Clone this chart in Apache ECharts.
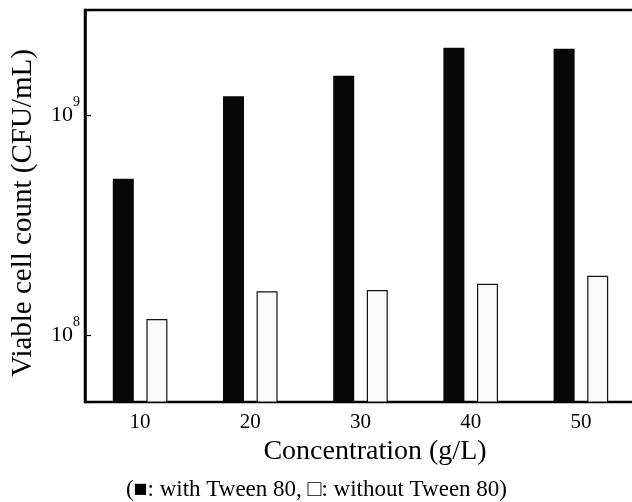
<!DOCTYPE html>
<html>
<head>
<meta charset="utf-8">
<script src="https://cdn.jsdelivr.net/npm/echarts@6/dist/echarts.min.js"></script>
<style>
html, body { margin: 0; padding: 0; background: #fff; }
#chart { width: 632px; height: 502px; }
</style>
</head>
<body>
<div id="chart"></div>
<script>
var concentrations = ['10', '20', '30', '40', '50'];
var withTween = [5.15e8, 1.22e9, 1.51e9, 2.02e9, 2.0e9];
var withoutTween = [1.19e8, 1.59e8, 1.61e8, 1.72e8, 1.87e8];
var yRange = [5e7, 3e9];

var serif = '"Liberation Serif", "Times New Roman", serif';
var myChart = echarts.init(document.getElementById('chart'));

function powLabel(v) {
    var e = Math.log10(v);
    if (Math.abs(e - Math.round(e)) > 1e-6) return '';
    return '{b|10}{s|' + Math.round(e) + '}';
}

var option = {
    animation: false,
    title: {
        text: '(\u25A0: with Tween 80, \u25A1: without Tween 80)',
        left: 126,
        top: 478,
        padding: 0,
        textStyle: { fontFamily: serif, fontSize: 23, fontWeight: 'normal', color: '#000' }
    },
    grid: {
        left: 85,
        right: -4,
        top: 10,
        bottom: 100,
        show: true,
        borderColor: '#000',
        borderWidth: 2.5,
        outerBoundsMode: 'none'
    },
    xAxis: {
        type: 'category',
        data: concentrations,
        name: 'Concentration (g/L)',
        nameLocation: 'middle',
        nameGap: 34,
        nameTextStyle: { fontFamily: serif, fontSize: 28, color: '#000', padding: [0, 0, 0, 29] },
        axisLine: { lineStyle: { color: '#000', width: 2 } },
        axisTick: { alignWithLabel: true, length: 5, lineStyle: { color: '#000', width: 1.2 } },
        axisLabel: { fontFamily: serif, fontSize: 21, color: '#000', margin: 10 },
        splitLine: { show: false }
    },
    yAxis: {
        type: 'log',
        logBase: 10,
        min: yRange[0],
        max: yRange[1],
        name: 'Viable cell count (CFU/mL)',
        nameLocation: 'middle',
        nameGap: 47,
        nameTextStyle: { fontFamily: serif, fontSize: 29, color: '#000', padding: [0, 14, 0, 0] },
        axisLine: { show: true, lineStyle: { color: '#000', width: 2.5 } },
        axisTick: { show: true, inside: true, length: 6, lineStyle: { color: '#000', width: 1.2 } },
        minorTick: { show: false },
        splitLine: { show: false },
        axisLabel: {
            margin: 5,
            showMinLabel: true,
            showMaxLabel: true,
            formatter: powLabel,
            rich: {
                b: { fontFamily: serif, fontSize: 22, color: '#000', lineHeight: 40 },
                s: { fontFamily: serif, fontSize: 14, color: '#000', lineHeight: 14, verticalAlign: 'top' }
            }
        }
    },
    series: [
        {
            name: 'with Tween 80',
            type: 'bar',
            data: withTween,
            barWidth: 21,
            barGap: '60%',
            itemStyle: { color: '#080808' }
        },
        {
            name: 'without Tween 80',
            type: 'bar',
            data: withoutTween,
            barWidth: 21,
            itemStyle: { color: '#fafafa', borderColor: '#111', borderWidth: 1.2 }
        }
    ]
};

myChart.setOption(option);
</script>
</body>
</html>
